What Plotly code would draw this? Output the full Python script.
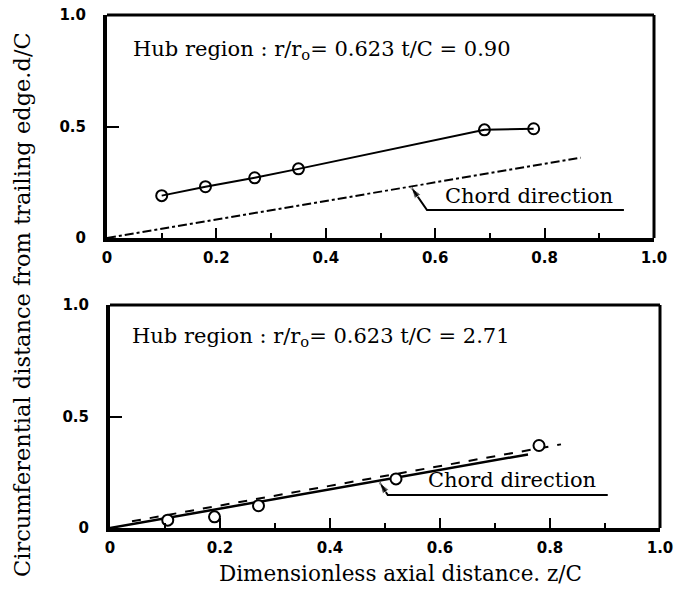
import plotly.graph_objects as go

# ---- data ----
top_z = [0.10, 0.18, 0.27, 0.35, 0.69, 0.78]
top_d = [0.19, 0.23, 0.27, 0.31, 0.485, 0.49]
top_chord_z = [0.0, 0.866]
top_chord_d = [0.0, 0.36]

bot_z = [0.105, 0.19, 0.27, 0.52, 0.78]
bot_d = [0.035, 0.05, 0.10, 0.22, 0.37]
bot_fit_z = [0.04, 0.82]
bot_fit_d = [0.03, 0.375]
bot_chord_z = [0.0, 0.76]
bot_chord_d = [0.0, 0.33]

x_ticks = [0, 0.2, 0.4, 0.6, 0.8, 1.0]
x_tick_text = ["0", "0.2", "0.4", "0.6", "0.8", "1.0"]
y_ticks = [0, 0.5, 1.0]
y_tick_text = ["0", "0.5", "1.0"]

top_title = "Hub region : r/r<sub>o</sub>= 0.623 t/C = 0.90"
bot_title = "Hub region : r/r<sub>o</sub>= 0.623 t/C = 2.71"
chord_label = "Chord direction"
x_title = "Dimensionless axial distance. z/C"
y_title = "Circumferential distance from trailing edge.d/C"

W, H = 679, 599
SERIF = "DejaVu Serif"
TICKFONT = dict(family="DejaVu Sans", size=15, color="black", weight="bold")
CIRCLE = dict(symbol="circle-open", size=11, color="black", line=dict(width=2, color="black"))

fig = go.Figure()

# top panel
fig.add_trace(go.Scatter(x=top_chord_z, y=top_chord_d, mode="lines",
                         line=dict(color="black", width=2, dash="dashdot"),
                         xaxis="x", yaxis="y", showlegend=False))
fig.add_trace(go.Scatter(x=top_z, y=top_d, mode="lines+markers",
                         line=dict(color="black", width=2), marker=CIRCLE,
                         xaxis="x", yaxis="y", showlegend=False))
# bottom panel
fig.add_trace(go.Scatter(x=bot_chord_z, y=bot_chord_d, mode="lines",
                         line=dict(color="black", width=2.5),
                         xaxis="x2", yaxis="y2", showlegend=False))
fig.add_trace(go.Scatter(x=bot_fit_z, y=bot_fit_d, mode="lines",
                         line=dict(color="black", width=2, dash="dash"),
                         xaxis="x2", yaxis="y2", showlegend=False))
fig.add_trace(go.Scatter(x=bot_z, y=bot_d, mode="markers",
                         marker=dict(symbol="circle", size=11, color="white", line=dict(width=2, color="black")),
                         xaxis="x2", yaxis="y2", showlegend=False))

# leader lines (end -> elbow -> tip) with arrowhead at the tip
fig.add_trace(go.Scatter(x=[0.945, 0.585, 0.556], y=[0.125, 0.125, 0.228], mode="lines+markers",
                         line=dict(color="black", width=2),
                         marker=dict(symbol="arrow", angleref="previous", size=[0, 0, 12], color="black"),
                         xaxis="x", yaxis="y", showlegend=False))
fig.add_trace(go.Scatter(x=[0.905, 0.505, 0.49], y=[0.148, 0.148, 0.205], mode="lines+markers",
                         line=dict(color="black", width=2),
                         marker=dict(symbol="arrow", angleref="previous", size=[0, 0, 12], color="black"),
                         xaxis="x2", yaxis="y2", showlegend=False))

def xaxis_cfg(domain, anchor):
    return dict(domain=domain, range=[0, 1.0], tickvals=x_ticks, ticktext=x_tick_text,
                ticks="inside", ticklen=10, tickwidth=2, tickcolor="black",
                minor=dict(dtick=0.1, tick0=0, ticks="inside", ticklen=5, tickwidth=2, tickcolor="black"),
                showline=True, linewidth=4, linecolor="black", showgrid=False, zeroline=False,
                tickfont=TICKFONT, anchor=anchor, automargin=False, ticklabelstandoff=3)

def yaxis_cfg(domain, anchor):
    return dict(domain=domain, range=[0, 1.0], tickvals=y_ticks, ticktext=y_tick_text,
                ticks="inside", ticklen=12, tickwidth=2, tickcolor="black",
                showline=True, linewidth=4, linecolor="black", showgrid=False, zeroline=False,
                tickfont=TICKFONT, anchor=anchor, automargin=False, ticklabelstandoff=14)

top_x = [107 / W, 654 / W]
bot_x = [110 / W, 660 / W]
top_y = [(H - 238) / H, (H - 15) / H]
bot_y = [(H - 528) / H, (H - 305) / H]

def txt(x, y, xr, yr, s, size=21, anchor="left", angle=0):
    return dict(x=x, y=y, xref=xr, yref=yr, text=s, showarrow=False, textangle=angle,
                xanchor=anchor, yanchor="middle",
                font=dict(family=SERIF, size=size, color="black"))

ann = [
    txt(0.043, 0.843, "x", "y", top_title),
    txt(0.036, 0.856, "x2", "y2", bot_title),
    txt(0.615, 0.19, "x", "y", chord_label),
    txt(0.575, 0.215, "x2", "y2", chord_label),
    txt(400 / W, (H - 573) / H, "paper", "paper", x_title, size=21.5, anchor="center"),
    txt(22 / W, (H - 305) / H, "paper", "paper", y_title, size=22.5, anchor="center", angle=-90),
]

shapes = []
for xr, yr in [("x", "y"), ("x2", "y2")]:
    shapes.append(dict(type="line", xref=xr + " domain", yref=yr + " domain", x0=0, x1=1, y0=1, y1=1,
                       line=dict(color="black", width=3)))
    shapes.append(dict(type="line", xref=xr + " domain", yref=yr + " domain", x0=1, x1=1, y0=0, y1=1,
                       line=dict(color="black", width=3)))

fig.update_layout(
    width=W, height=H, margin=dict(l=0, r=0, t=0, b=0, autoexpand=False),
    paper_bgcolor="white", plot_bgcolor="white",
    xaxis=xaxis_cfg(top_x, "y"),
    yaxis=yaxis_cfg(top_y, "x"),
    xaxis2=xaxis_cfg(bot_x, "y2"),
    yaxis2=yaxis_cfg(bot_y, "x2"),
    annotations=ann, shapes=shapes, showlegend=False,
)

fig.write_html("out.html", config={"displayModeBar": False},
               post_script="document.body.style.margin='0';document.body.style.overflow='hidden';")
